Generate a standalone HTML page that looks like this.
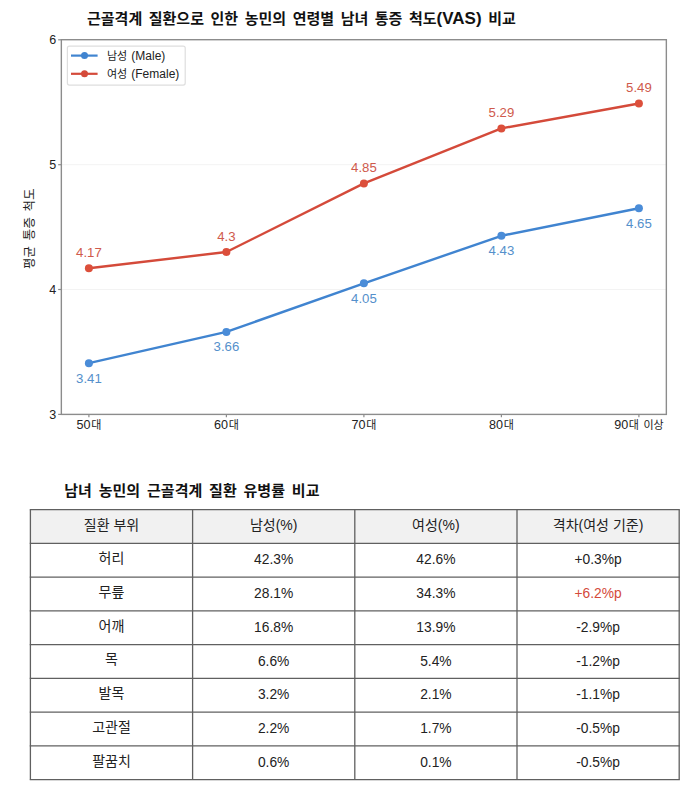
<!DOCTYPE html>
<html lang="ko"><head><meta charset="utf-8"><title>근골격계 질환 통증 척도 비교</title>
<style>
html,body{margin:0;padding:0;background:#fff;}
body{width:700px;height:798px;position:relative;overflow:hidden;font-family:"Liberation Sans","Noto Sans CJK KR",sans-serif;color:#222;}
.h1{position:absolute;left:87px;top:7px;margin:0;font-size:15px;line-height:24px;font-weight:bold;color:#111;white-space:nowrap;word-spacing:2.4px;}
.h1 span{font-size:17px;line-height:1;}
.h2{position:absolute;left:64.3px;top:479px;margin:0;font-size:15px;line-height:24px;font-weight:bold;color:#111;white-space:nowrap;word-spacing:2.7px;}
svg text{font-family:"Liberation Sans","Noto Sans CJK KR",sans-serif;}
.tx{font-size:11px;fill:#222;word-spacing:1.5px;}
.dg{font-size:12.6px;}
.ty{font-size:12.5px;fill:#222;}
.dl{font-size:13.2px;}
.lg{font-size:11px;fill:#222;}
.la{font-size:12px;}
.yl{font-size:12.4px;fill:#222;word-spacing:1.8px;letter-spacing:0.25px;}
.t{position:absolute;left:30.4px;width:648.8px;border-collapse:collapse;table-layout:fixed;}
.t th,.t td{border:0;padding:0;text-align:center;vertical-align:middle;font-size:13.8px;font-weight:normal;color:#222;line-height:20px;}
.t th{font-size:14px;padding:0 0 4px 0;}
.t td.k{font-size:14px;padding:0 0 5px 0;}
.t td.hl{color:#d44a3a;}
</style></head><body>
<h1 class="h1">근골격계 질환으로 인한 농민의 연령별 남녀 통증 척도<span>(VAS)</span> 비교</h1>
<svg width="700" height="450" viewBox="0 0 700 450" style="position:absolute;left:0;top:0"><line x1="61.35" y1="289.5" x2="666.4" y2="289.5" stroke="#f3f3f3" stroke-width="1"/><line x1="61.35" y1="164.7" x2="666.4" y2="164.7" stroke="#f3f3f3" stroke-width="1"/><rect x="61.35" y="39.7" width="605.0" height="374.7" fill="none" stroke="#8c8c8c" stroke-width="1.4"/><line x1="58.15" y1="414.4" x2="61.35" y2="414.4" stroke="#8c8c8c" stroke-width="1.2"/><text x="56.1" y="418.9" text-anchor="end" class="ty">3</text><line x1="58.15" y1="289.5" x2="61.35" y2="289.5" stroke="#8c8c8c" stroke-width="1.2"/><text x="56.1" y="294.0" text-anchor="end" class="ty">4</text><line x1="58.15" y1="164.7" x2="61.35" y2="164.7" stroke="#8c8c8c" stroke-width="1.2"/><text x="56.1" y="169.2" text-anchor="end" class="ty">5</text><line x1="58.15" y1="39.8" x2="61.35" y2="39.8" stroke="#8c8c8c" stroke-width="1.2"/><text x="56.1" y="44.3" text-anchor="end" class="ty">6</text><line x1="88.9" y1="414.35" x2="88.9" y2="417.35" stroke="#8c8c8c" stroke-width="1.2"/><text x="88.9" y="428.8" text-anchor="middle" class="tx"><tspan class="dg">50</tspan><tspan dx="0.6">대</tspan></text><line x1="226.4" y1="414.35" x2="226.4" y2="417.35" stroke="#8c8c8c" stroke-width="1.2"/><text x="226.4" y="428.8" text-anchor="middle" class="tx"><tspan class="dg">60</tspan><tspan dx="0.6">대</tspan></text><line x1="363.9" y1="414.35" x2="363.9" y2="417.35" stroke="#8c8c8c" stroke-width="1.2"/><text x="363.9" y="428.8" text-anchor="middle" class="tx"><tspan class="dg">70</tspan><tspan dx="0.6">대</tspan></text><line x1="501.4" y1="414.35" x2="501.4" y2="417.35" stroke="#8c8c8c" stroke-width="1.2"/><text x="501.4" y="428.8" text-anchor="middle" class="tx"><tspan class="dg">80</tspan><tspan dx="0.6">대</tspan></text><line x1="638.9" y1="414.35" x2="638.9" y2="417.35" stroke="#8c8c8c" stroke-width="1.2"/><text x="638.9" y="428.8" text-anchor="middle" class="tx"><tspan class="dg">90</tspan><tspan dx="0.6">대 이상</tspan></text><polyline points="88.9,363.2 226.4,331.9 363.9,283.3 501.4,235.8 638.9,208.3" fill="none" stroke="#4084d0" stroke-width="2.4" stroke-linejoin="round"/><circle cx="88.9" cy="363.2" r="4.0" fill="#4a8cd8"/><text x="88.9" y="382.7" text-anchor="middle" class="dl" fill="#5590cb">3.41</text><circle cx="226.4" cy="331.9" r="4.0" fill="#4a8cd8"/><text x="226.4" y="351.4" text-anchor="middle" class="dl" fill="#5590cb">3.66</text><circle cx="363.9" cy="283.3" r="4.0" fill="#4a8cd8"/><text x="363.9" y="302.8" text-anchor="middle" class="dl" fill="#5590cb">4.05</text><circle cx="501.4" cy="235.8" r="4.0" fill="#4a8cd8"/><text x="501.4" y="255.3" text-anchor="middle" class="dl" fill="#5590cb">4.43</text><circle cx="638.9" cy="208.3" r="4.0" fill="#4a8cd8"/><text x="638.9" y="227.8" text-anchor="middle" class="dl" fill="#5590cb">4.65</text><polyline points="88.9,268.3 226.4,252.0 363.9,183.4 501.4,128.4 638.9,103.5" fill="none" stroke="#d44a3a" stroke-width="2.4" stroke-linejoin="round"/><circle cx="88.9" cy="268.3" r="4.0" fill="#dc4f3b"/><text x="88.9" y="256.8" text-anchor="middle" class="dl" fill="#cf5a4c">4.17</text><circle cx="226.4" cy="252.0" r="4.0" fill="#dc4f3b"/><text x="226.4" y="240.5" text-anchor="middle" class="dl" fill="#cf5a4c">4.3</text><circle cx="363.9" cy="183.4" r="4.0" fill="#dc4f3b"/><text x="363.9" y="171.9" text-anchor="middle" class="dl" fill="#cf5a4c">4.85</text><circle cx="501.4" cy="128.4" r="4.0" fill="#dc4f3b"/><text x="501.4" y="116.9" text-anchor="middle" class="dl" fill="#cf5a4c">5.29</text><circle cx="638.9" cy="103.5" r="4.0" fill="#dc4f3b"/><text x="638.9" y="92.0" text-anchor="middle" class="dl" fill="#cf5a4c">5.49</text><rect x="67.4" y="46.1" width="117.8" height="39" rx="2" fill="#fff" fill-opacity="0.9" stroke="#dedede" stroke-width="1.2"/><line x1="71" y1="55.6" x2="97.6" y2="55.6" stroke="#4084d0" stroke-width="2.2"/><circle cx="84.5" cy="55.6" r="3.5" fill="#4084d0"/><text x="107" y="59.8" class="lg">남성 <tspan class="la" dx="1">(Male)</tspan></text><line x1="71" y1="73.8" x2="97.6" y2="73.8" stroke="#d44a3a" stroke-width="2.2"/><circle cx="84.5" cy="73.8" r="3.5" fill="#d44a3a"/><text x="107" y="78.0" class="lg">여성 <tspan class="la" dx="1">(Female)</tspan></text><text transform="translate(34.3,228.6) rotate(-90)" text-anchor="middle" class="yl">평균 통증 척도</text></svg>
<h2 class="h2">남녀 농민의 근골격계 질환 유병률 비교</h2>
<svg width="700" height="300" viewBox="0 498 700 300" style="position:absolute;left:0;top:498px;pointer-events:none"><rect x="30.4" y="509.70" width="648.8" height="33.74" fill="#f1f1f1"/><line x1="29.75" y1="509.70" x2="679.85" y2="509.70" stroke="#606060" stroke-width="1.3"/><line x1="29.75" y1="543.44" x2="679.85" y2="543.44" stroke="#606060" stroke-width="1.3"/><line x1="29.75" y1="577.17" x2="679.85" y2="577.17" stroke="#606060" stroke-width="1.3"/><line x1="29.75" y1="610.91" x2="679.85" y2="610.91" stroke="#606060" stroke-width="1.3"/><line x1="29.75" y1="644.65" x2="679.85" y2="644.65" stroke="#606060" stroke-width="1.3"/><line x1="29.75" y1="678.39" x2="679.85" y2="678.39" stroke="#606060" stroke-width="1.3"/><line x1="29.75" y1="712.12" x2="679.85" y2="712.12" stroke="#606060" stroke-width="1.3"/><line x1="29.75" y1="745.86" x2="679.85" y2="745.86" stroke="#606060" stroke-width="1.3"/><line x1="29.75" y1="779.60" x2="679.85" y2="779.60" stroke="#606060" stroke-width="1.3"/><line x1="30.40" y1="509.7" x2="30.40" y2="779.6" stroke="#606060" stroke-width="1.3"/><line x1="192.60" y1="509.7" x2="192.60" y2="779.6" stroke="#606060" stroke-width="1.3"/><line x1="354.80" y1="509.7" x2="354.80" y2="779.6" stroke="#606060" stroke-width="1.3"/><line x1="517.00" y1="509.7" x2="517.00" y2="779.6" stroke="#606060" stroke-width="1.3"/><line x1="679.20" y1="509.7" x2="679.20" y2="779.6" stroke="#606060" stroke-width="1.3"/></svg>
<table class="t" style="top:510px"><thead><tr style="height:33px"><th>질환 부위</th><th>남성(%)</th><th>여성(%)</th><th>격차(여성 기준)</th></tr></thead><tbody><tr style="height:34px"><td class="k">허리</td><td>42.3%</td><td>42.6%</td><td>+0.3%p</td></tr><tr style="height:34px"><td class="k">무릎</td><td>28.1%</td><td>34.3%</td><td class="hl">+6.2%p</td></tr><tr style="height:34px"><td class="k">어깨</td><td>16.8%</td><td>13.9%</td><td>-2.9%p</td></tr><tr style="height:33px"><td class="k">목</td><td>6.6%</td><td>5.4%</td><td>-1.2%p</td></tr><tr style="height:34px"><td class="k">발목</td><td>3.2%</td><td>2.1%</td><td>-1.1%p</td></tr><tr style="height:34px"><td class="k">고관절</td><td>2.2%</td><td>1.7%</td><td>-0.5%p</td></tr><tr style="height:34px"><td class="k">팔꿈치</td><td>0.6%</td><td>0.1%</td><td>-0.5%p</td></tr></tbody></table>
</body></html>
